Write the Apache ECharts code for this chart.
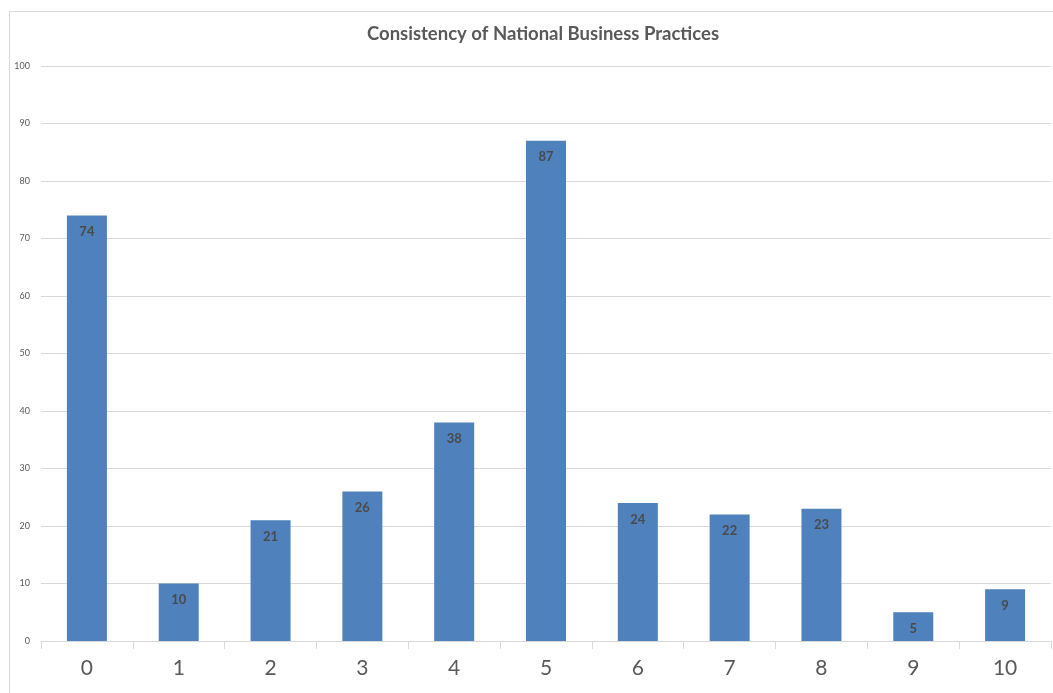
<!DOCTYPE html>
<html>
<head>
<meta charset="utf-8">
<script src="https://cdn.jsdelivr.net/npm/echarts@6/dist/echarts.min.js"></script>
<style>
html,body{margin:0;padding:0;background:#fff;}
#chart{width:1053px;height:693px;}
</style>
</head>
<body>
<div id="chart"></div>
<script>
const titleText = 'Consistency of National Business Practices';
const categories = ['0','1','2','3','4','5','6','7','8','9','10'];
const values = [74, 10, 21, 26, 38, 87, 24, 22, 23, 5, 9];
const yTicks = { min: 0, max: 100, interval: 10 };

const chart = echarts.init(document.getElementById('chart'), null, {renderer: 'canvas'});
chart.setOption({
  animation: false,
  backgroundColor: '#fff',
  graphic: [{
    type: 'rect', z: -10, silent: true,
    shape: {x: 9.5, y: 11.5, width: 1100, height: 800},
    style: {fill: 'none', stroke: '#d9d9d9', lineWidth: 1}
  }],
  title: {
    text: titleText, left: 362, top: 20,
    textStyle: {fontFamily: 'Lato', fontWeight: 'bold', fontSize: 18.5, color: '#595959'}
  },
  grid: {left: 41, right: 2, top: 66, bottom: 52, containLabel: false},
  xAxis: {
    type: 'category', data: categories, z: 3,
    axisLine: {lineStyle: {color: '#d9d9d9', width: 1}},
    axisTick: {show: true, length: 8, lineStyle: {color: '#d9d9d9'}},
    axisLabel: {fontFamily: 'Lato', fontSize: 21, color: '#595959', margin: 17},
    splitLine: {show: false}
  },
  yAxis: {
    type: 'value', min: yTicks.min, max: yTicks.max, interval: yTicks.interval,
    axisLine: {show: false}, axisTick: {show: false},
    axisLabel: {fontFamily: 'Lato', fontSize: 9, color: '#595959', margin: 11},
    splitLine: {lineStyle: {color: '#d9d9d9', width: 1}}
  },
  series: [{
    type: 'bar', data: values, barWidth: 40,
    itemStyle: {color: '#4f81bd'},
    label: {
      show: true, position: 'insideTop', distance: 10,
      fontFamily: 'Lato', fontWeight: 'bold', fontSize: 13, color: '#4a4a4a'
    }
  }]
});
</script>
</body>
</html>
